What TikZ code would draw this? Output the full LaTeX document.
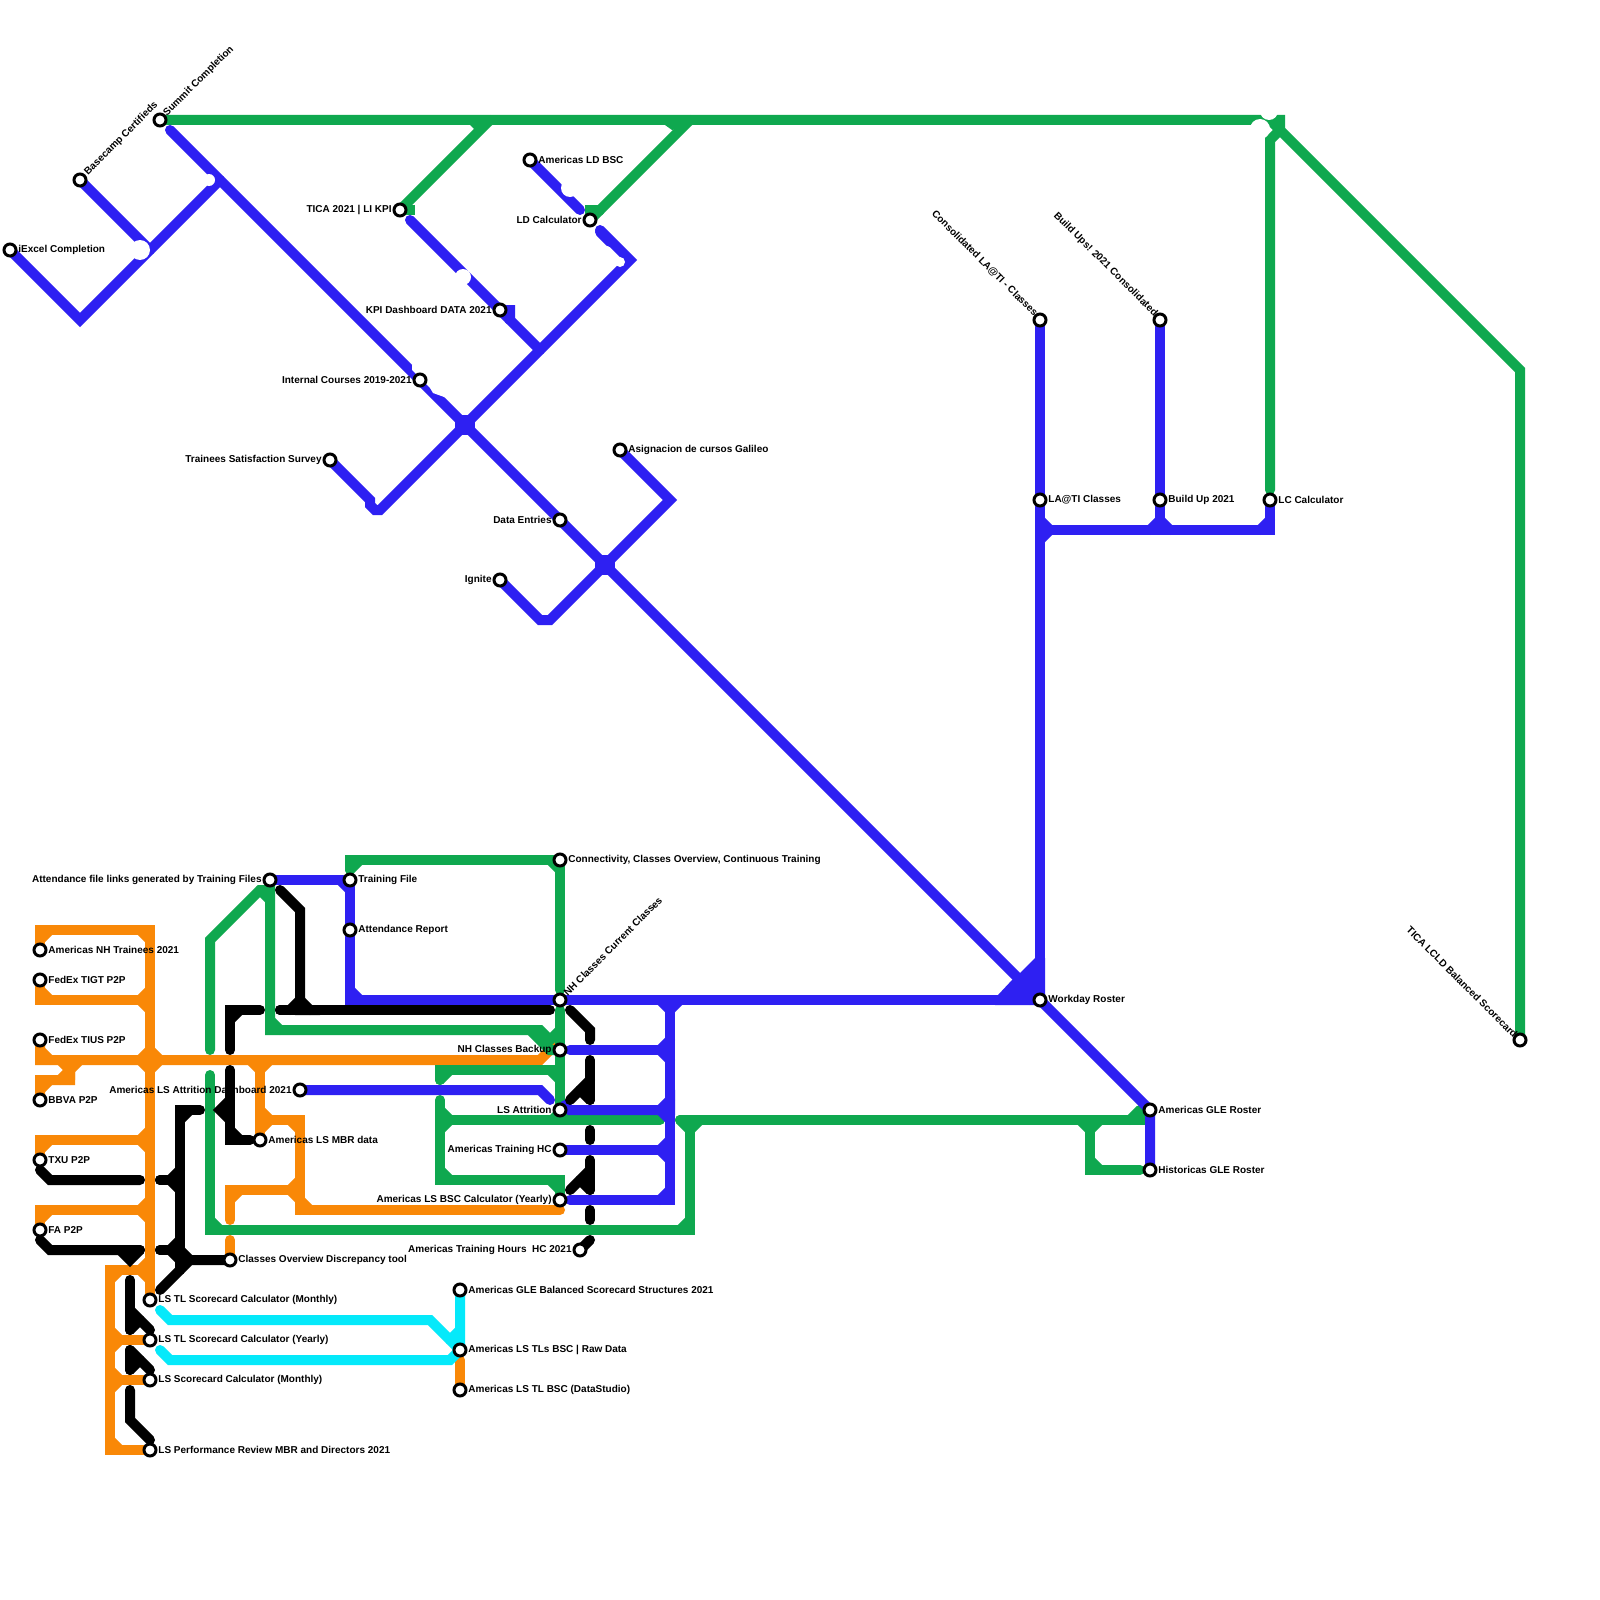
\documentclass[tikz,border=0pt]{standalone}
\usepackage{fontspec}
\setmainfont{Liberation Sans}
\usetikzlibrary{calc}
\definecolor{mblue}{HTML}{2E20F2}
\definecolor{mgreen}{HTML}{0FA84F}
\definecolor{morange}{HTML}{F98807}
\definecolor{mcyan}{HTML}{05E9FA}
\tikzset{
 mline/.style={line width=5pt,line cap=round,miter limit=1.5,line join=miter},
 stationdot/.style={circle,draw=black,fill=white,line width=1.5pt,minimum size=6pt,inner sep=0pt},
 lab/.style={font=\fontsize{5}{6}\selectfont\bfseries,text=black,inner sep=0pt},
 bite/.style={fill=white,draw=none},
}
\newif\ifmlch
\newcommand\ml[2]{%
 \gdef\mlpath{}%
 \foreach \px/\py [count=\ii] in {#2}{%
  \ifnum\ii=1\relax \xdef\mlpath{(\px,\py)}\else \xdef\mlpath{\mlpath -- (\px,\py)}\fi
  \ifnum\ii>2\relax
   \mlchfalse
   \ifnum\mlax=\mlbx\relax \ifnum\mlby=\py\relax \mlchtrue\fi\fi
   \ifnum\mlay=\mlby\relax \ifnum\mlbx=\px\relax \mlchtrue\fi\fi
   \ifmlch
    \draw[mline,color=#1] ($(\mlbx,\mlby)!5pt!(\mlax,\mlay)$) -- ($(\mlbx,\mlby)!5pt!(\px,\py)$);
   \fi
  \fi
  \ifnum\ii>1\relax \xdef\mlax{\mlbx}\xdef\mlay{\mlby}\fi
  \xdef\mlbx{\px}\xdef\mlby{\py}%
 }%
 \draw[mline,color=#1] \mlpath;
}
\newcommand\stn[3]{\node[stationdot] (#1) at (#2,#3) {};}
\newcommand\labr[4]{\node[lab,anchor=west] (#1) at (#2+8,#3) {#4};}
\newcommand\labl[4]{\node[lab,anchor=east] (#1) at (#2-8,#3) {#4};}
\begin{document}
\begin{tikzpicture}[x=0.5pt,y=-0.5pt]
\useasboundingbox (0,0) rectangle (1600,1600);
\fill[white] (0,0) rectangle (1600,1600);
% ORANGE
\ml{morange}{40/950,40/930,150/930,150/1300}
\ml{morange}{40/980,40/1000,150/1000,150/980}
\ml{morange}{130/1000,150/1000,150/1020}
\ml{morange}{40/1040,40/1060,540/1060,555/1045}
\ml{morange}{130/1060,150/1060,150/1040}
\ml{morange}{130/1060,150/1060,150/1080}
\ml{morange}{170/1060,150/1060,150/1040}
\ml{morange}{170/1060,150/1060,150/1080}
\ml{morange}{40/1100,40/1080,70/1080,70/1070,80/1060}
\ml{morange}{60/1060,70/1070,70/1080}
\ml{morange}{40/1160,40/1140,150/1140,150/1120}
\ml{morange}{130/1140,150/1140,150/1160}
\ml{morange}{40/1230,40/1210,150/1210,150/1190}
\ml{morange}{130/1210,150/1210,150/1230}
\ml{morange}{240/1060,260/1060,260/1080}
\ml{morange}{280/1060,260/1060,260/1080}
\ml{morange}{260/1060,260/1100,260/1120,300/1120,300/1210,560/1210}
\ml{morange}{260/1140,260/1120,280/1120}
\ml{morange}{230/1220,230/1190,300/1190,300/1170}
\ml{morange}{280/1190,300/1190,300/1210}
\ml{morange}{230/1240,230/1260}
\ml{morange}{110/1270,150/1270,150/1250}
\ml{morange}{150/1300,150/1270,110/1270,110/1450,150/1450}
\ml{morange}{110/1320,110/1340,130/1340}
\ml{morange}{110/1360,110/1340,150/1340}
\ml{morange}{110/1360,110/1380,130/1380}
\ml{morange}{110/1400,110/1380,150/1380}
\ml{morange}{460/1360,460/1390}
% CYAN
\ml{mcyan}{160/1310,170/1320,430/1320,460/1350,460/1290}
\ml{mcyan}{160/1350,170/1360,450/1360,460/1350}
\ml{mcyan}{450/1340,460/1330}
% GREEN
\ml{mgreen}{160/120,1280/120,1280/130,1520/370,1520/1040}
\ml{mgreen}{1270/490,1270/140,1280/130}
\ml{mgreen}{400/210,410/200,490/120}
\fill[mgreen] (400,205) -- (415,205) -- (415,215) -- (400,215) -- cycle;
\fill[mgreen] (470,125) -- (475,130) -- (492,125) -- cycle;
\ml{mgreen}{590/220,590/210,600/210,690/120}
\fill[mgreen] (665,125) -- (672,130) -- (692,125) -- cycle;
\ml{mgreen}{210/1050,210/940,260/890,270/890,270/1030,530/1030,550/1050,560/1050}
\ml{mgreen}{530/1030,540/1030,550/1040,560/1030}
\ml{mgreen}{350/870,350/860,560/860,560/990}
\ml{mgreen}{560/1010,560/1110}
\ml{mgreen}{440/1080,440/1070,560/1070,560/1080}
\ml{mgreen}{440/1100,440/1180,560/1180,560/1195}
\ml{mgreen}{440/1110,440/1120,660/1120}
\ml{mgreen}{440/1130,440/1120,460/1120}
\fill[mgreen] (550,1115) -- (560,1105) -- (570,1115) -- cycle;
\ml{mgreen}{210/1075,210/1230,690/1230,690/1120,680/1120}
\ml{mgreen}{690/1130,690/1120,1140/1120,1140/1110}
\ml{mgreen}{1070/1120,1090/1120,1090/1170,1140/1170}
\ml{mgreen}{1110/1120,1090/1120,1090/1140}
% BLUE
\ml{mblue}{10/250,80/320,220/180}
\ml{mblue}{80/180,150/250}
\ml{mblue}{170/130,1040/1000,1150/1110,1150/1170}
\ml{mblue}{330/460,370/500,370/505,375/510,380/510,630/260,600/230}
\ml{mblue}{600/232,610/242}
\fill[mblue] (455,415) rectangle (475,435);
\ml{mblue}{410/220,500/310,510/310,510/320,540/350}
\ml{mblue}{530/160,580/210}
\ml{mblue}{500/580,540/620,550/620,670/500,620/450}
\fill[mblue] (595,555) rectangle (615,575);
\ml{mblue}{1040/320,1040/1000,350/1000,350/880,270/880}
\ml{mblue}{1040/520,1040/530,1060/530}
\ml{mblue}{1040/540,1040/530,1060/530}
\ml{mblue}{1160/320,1160/530,1140/530}
\ml{mblue}{1160/510,1160/530,1180/530}
\ml{mblue}{1040/530,1270/530,1270/500}
\fill[mblue] (995,1005) -- (998,995) -- (1012,980) -- (1020,973) -- (1035,958) -- (1045,958) -- (1045,1005) -- cycle;
\ml{mblue}{650/1000,670/1000,670/1020}
\ml{mblue}{690/1000,670/1000,670/1200,570/1200}
\ml{mblue}{570/1050,670/1050,670/1030}
\ml{mblue}{650/1050,670/1050,670/1070}
\ml{mblue}{565/1105,570/1110,670/1110,670/1090}
\ml{mblue}{650/1110,670/1110,670/1130}
\ml{mblue}{560/1150,670/1150,670/1130}
\ml{mblue}{650/1150,670/1150,670/1170}
\ml{mblue}{300/1090,540/1090,550/1100}
% BLACK
\ml{black}{280/890,300/910,300/1010,320/1010}
\ml{black}{280/1010,300/1010,300/990}
\ml{black}{280/1010,550/1010}
\ml{black}{260/1010,230/1010,230/1050}
\ml{black}{230/1070,230/1140,250/1140}
\ml{black}{230/1100,220/1110,230/1120}
\ml{black}{200/1110,180/1110,180/1270}
\ml{black}{160/1180,180/1180,180/1160}
\ml{black}{160/1180,180/1180,180/1200}
\ml{black}{160/1250,180/1250,180/1230}
\ml{black}{160/1250,180/1250,180/1270}
\ml{black}{180/1240,180/1260,230/1260}
\ml{black}{160/1290,190/1260,230/1260}
\ml{black}{40/1170,50/1180,140/1180}
\ml{black}{40/1240,50/1250,140/1250}
\ml{black}{120/1250,130/1260,140/1250}
\ml{black}{130/1280,130/1330}
\ml{black}{130/1310,150/1330}
\ml{black}{130/1330,140/1320}
\ml{black}{130/1350,130/1370}
\ml{black}{130/1350,150/1370}
\ml{black}{130/1370,140/1360}
\ml{black}{130/1390,130/1420,150/1440}
\ml{black}{570/1010,590/1030,590/1040}
\ml{black}{590/1060,590/1100}
\ml{black}{570/1100,590/1080}
\ml{black}{590/1100,580/1090}
\ml{black}{590/1130,590/1140}
\ml{black}{590/1160,590/1190}
\ml{black}{570/1190,590/1170}
\ml{black}{590/1190,580/1180}
\ml{black}{590/1210,590/1220}
\ml{black}{580/1250,590/1240}
% bites
\fill[bite] (140,250) circle (5pt);
\fill[bite] (209,180) circle (3pt);
\fill[bite] (570,188) circle (4.5pt);
\fill[bite] (463,277) circle (4pt);
\fill[bite] (620,262) circle (2.5pt);
\fill[bite] (1260,129) circle (5pt);
\fill[bite] (1269,111) circle (4.5pt);
\fill[bite] (412,365) -- (412,370) -- (430,388) -- (433,393) -- (447,398) -- (425,365) -- cycle;
% STATIONS
\stn{s1}{10}{250} \stn{s2}{80}{180} \stn{s3}{160}{120} \stn{s4}{400}{210}
\stn{s5}{530}{160} \stn{s6}{590}{220} \stn{s7}{500}{310} \stn{s8}{420}{380}
\stn{s9}{330}{460} \stn{s10}{560}{520} \stn{s11}{620}{450} \stn{s12}{500}{580}
\stn{s13}{1040}{320} \stn{s14}{1160}{320} \stn{s15}{1040}{500} \stn{s16}{1160}{500}
\stn{s17}{1270}{500} \stn{s18}{1520}{1040} \stn{s19}{1040}{1000} \stn{s20}{1150}{1110}
\stn{s21}{1150}{1170} \stn{s22}{560}{860} \stn{s23}{350}{880} \stn{s24}{270}{880}
\stn{s25}{350}{930} \stn{s26}{560}{1000} \stn{s27}{560}{1050} \stn{s28}{560}{1110}
\stn{s29}{560}{1150} \stn{s30}{560}{1200} \stn{s31}{580}{1250} \stn{s32}{40}{950}
\stn{s33}{40}{980} \stn{s34}{40}{1040} \stn{s35}{40}{1100} \stn{s36}{40}{1160}
\stn{s37}{40}{1230} \stn{s38}{300}{1090} \stn{s39}{260}{1140} \stn{s40}{230}{1260}
\stn{s41}{150}{1300} \stn{s42}{150}{1340} \stn{s43}{150}{1380} \stn{s44}{150}{1450}
\stn{s45}{460}{1290} \stn{s46}{460}{1350} \stn{s47}{460}{1390}
% LABELS
\labr{t1}{10}{250}{iExcel Completion}
\labr{t5}{530}{160}{Americas LD BSC}
\labl{t4}{400}{210}{TICA 2021 | LI KPI}
\labl{t6}{590}{220}{LD Calculator}
\labl{t7}{500}{310}{KPI Dashboard DATA 2021}
\labl{t8}{420}{380}{Internal Courses 2019-2021}
\labl{t9}{330}{460}{Trainees Satisfaction Survey}
\labl{t10}{560}{520}{Data Entries}
\labr{t11}{620}{450}{Asignacion de cursos Galileo}
\labl{t12}{500}{580}{Ignite}
\labr{t15}{1040}{500}{LA@TI Classes}
\labr{t16}{1160}{500}{Build Up 2021}
\labr{t17}{1270}{500}{LC Calculator}
\labr{t19}{1040}{1000}{Workday Roster}
\labr{t20}{1150}{1110}{Americas GLE Roster}
\labr{t21}{1150}{1170}{Historicas GLE Roster}
\labr{t22}{560}{860}{Connectivity, Classes Overview, Continuous Training}
\labr{t23}{350}{880}{Training File}
\labl{t24}{270}{880}{Attendance file links generated by Training Files}
\labr{t25}{350}{930}{Attendance Report}
\labl{t27}{560}{1050}{NH Classes Backup}
\labl{t28}{560}{1110}{LS Attrition}
\labl{t29}{560}{1150}{Americas Training HC}
\labl{t30}{560}{1200}{Americas LS BSC Calculator (Yearly)}
\labl{t31}{580}{1250}{Americas Training Hours\ \ HC 2021}
\labr{t32}{40}{950}{Americas NH Trainees 2021}
\labr{t33}{40}{980}{FedEx TIGT P2P}
\labr{t34}{40}{1040}{FedEx TIUS P2P}
\labr{t35}{40}{1100}{BBVA P2P}
\labr{t36}{40}{1160}{TXU P2P}
\labr{t37}{40}{1230}{FA P2P}
\labl{t38}{300}{1090}{Americas LS Attrition Dashboard 2021}
\labr{t39}{260}{1140}{Americas LS MBR data}
\labr{t40}{230}{1260}{Classes Overview Discrepancy tool}
\labr{t41}{150}{1300}{LS TL Scorecard Calculator (Monthly)}
\labr{t42}{150}{1340}{LS TL Scorecard Calculator (Yearly)}
\labr{t43}{150}{1380}{LS Scorecard Calculator (Monthly)}
\labr{t44}{150}{1450}{LS Performance Review MBR and Directors 2021}
\labr{t45}{460}{1290}{Americas GLE Balanced Scorecard Structures 2021}
\labr{t46}{460}{1350}{Americas LS TLs BSC | Raw Data}
\labr{t47}{460}{1390}{Americas LS TL BSC (DataStudio)}
\node[lab,anchor=west,rotate=45] (t2) at (86,174) {Basecamp Certifieds};
\node[lab,anchor=west,rotate=45] (t3) at (165,115) {Summit Completion};
\node[lab,anchor=west,rotate=45] (t26) at (565,994) {NH Classes Current Classes};
\node[lab,anchor=east,rotate=-45] (t13) at (1036,315) {Consolidated LA@TI - Classes};
\node[lab,anchor=east,rotate=-45] (t14) at (1156,315) {Build Ups! 2021 Consolidated};
\node[lab,anchor=east,rotate=-45] (t18) at (1516,1036) {TICA LCLD Balanced Scorecard};
\end{tikzpicture}
\end{document}
